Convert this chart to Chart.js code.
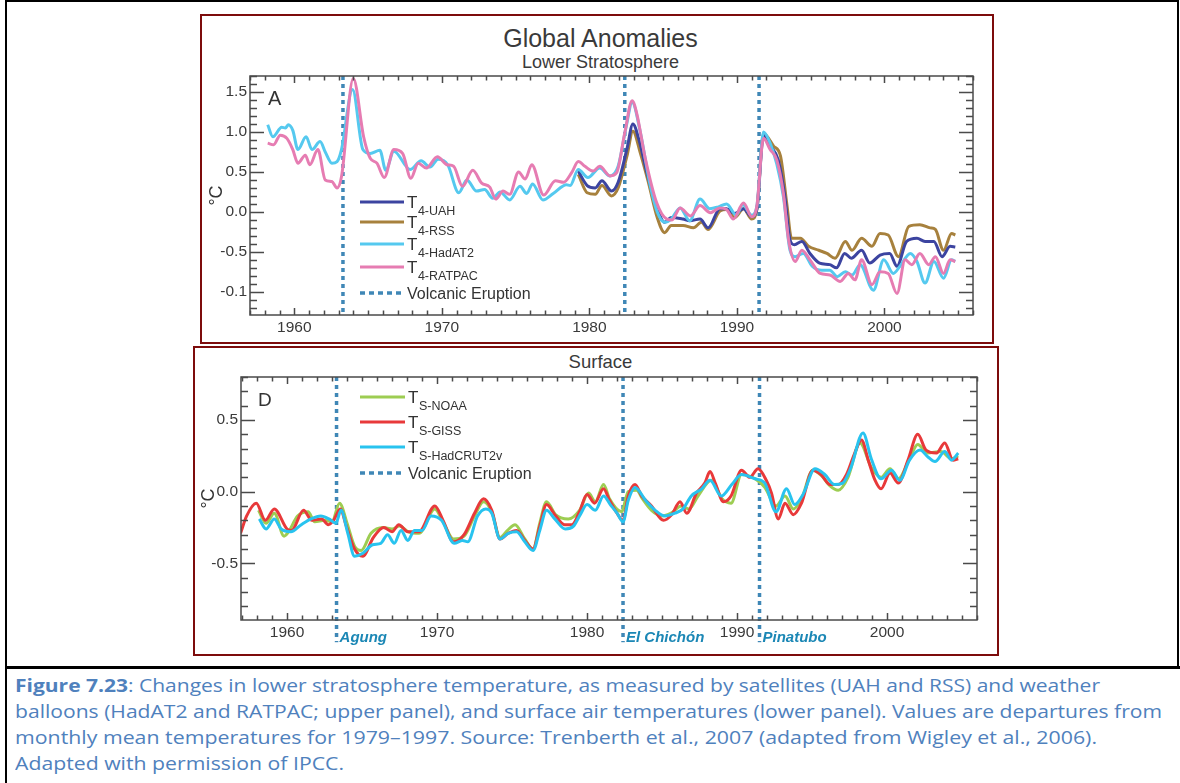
<!DOCTYPE html>
<html lang="en">
<head>
<meta charset="UTF-8">
<title>Global Anomalies</title>
<script src="https://cdn.jsdelivr.net/npm/chart.js"></script>
<style>
  html, body { margin: 0; padding: 0; background: #fff; }
  body { width: 1180px; height: 783px; position: relative; overflow: hidden; font-family: "Liberation Sans", Arial, sans-serif; }
  .abs { position: absolute; }
  #outer { left: 5px; top: 0; width: 1174px; height: 668px; border: 2px solid #000; border-bottom: none; box-sizing: border-box; }
  #divider { left: 5px; top: 666px; width: 1175px; height: 3px; background: #000; }
  #leftRule { left: 5px; top: 668px; width: 2px; height: 115px; background: #000; }
  .panel { border: 2px solid #7d0c0c; box-sizing: border-box; }
  #panelA { left: 200px; top: 14px; width: 794px; height: 330px; }
  #panelD { left: 193px; top: 346px; width: 806px; height: 310px; }
  .ttl { left: 0; width: 1201px; text-align: center; color: #3a3a3a; white-space: nowrap; }
  #chartA { left: 202px; top: 16px; }
  #chartD { left: 195px; top: 348px; }
  .cap { left: 15px; font-family: "Open Sans", sans-serif; font-size: 18px; line-height: 24px; color: #4f81bd; white-space: nowrap; transform-origin: 0 0; }
  .cap b { font-weight: 700; }
</style>
</head>
<body>
<div class="abs" id="outer"></div>
<div class="abs" id="divider"></div>
<div class="abs" id="leftRule"></div>

<div class="abs panel" id="panelA"></div>
<div class="abs panel" id="panelD"></div>

<div class="abs ttl" style="top:25.5px;font-size:25px;line-height:25px;">Global Anomalies</div>
<div class="abs ttl" style="top:53px;font-size:18px;line-height:18px;">Lower Stratosphere</div>
<div class="abs ttl" style="top:352.6px;font-size:18.5px;line-height:18.5px;">Surface</div>

<canvas class="abs" id="chartA" width="789" height="326"></canvas>
<canvas class="abs" id="chartD" width="801" height="306"></canvas>

<div class="abs cap" style="top:673px;" data-w="1085"><b>Figure 7.23</b>: Changes in lower stratosphere temperature, as measured by satellites (UAH and RSS) and weather</div>
<div class="abs cap" style="top:699px;" data-w="1147">balloons (HadAT2 and RATPAC; upper panel), and surface air temperatures (lower panel). Values are departures from</div>
<div class="abs cap" style="top:725px;" data-w="1082">monthly mean temperatures for 1979–1997. Source: Trenberth et al., 2007 (adapted from Wigley et al., 2006).</div>
<div class="abs cap" style="top:750.5px;" data-w="329">Adapted with permission of IPCC.</div>

<script>
// ---- data ----
const eruptionYears = [1963.3, 1982.4, 1991.5];
const eruptionNames = ['Agung', 'El Chichón', 'Pinatubo'];
const decadeTicks = [1960, 1970, 1980, 1990, 2000];

// upper panel: lower stratosphere
const yTicksA = [-1.0, -0.5, 0.0, 0.5, 1.0, 1.5];
const yLabelsA = ['-0.1', '-0.5', '0.0', '0.5', '1.0', '1.5'];

const uahYears = [1979.25,1979.85,1980.4,1980.85,1981.5,1981.95,1982.55,1982.95,1983.35,1983.9,1984.6,1985.1,1985.55,1986.35,1986.8,1987.5,1988.05,1988.85,1989.3,1989.85,1990.45,1991.0,1991.35,1991.8,1992.25,1992.8,1993.25,1993.6,1993.9,1994.4,1994.95,1995.6,1996.3,1996.75,1997.3,1997.75,1998.45,1999.0,1999.7,2000.35,2000.85,2001.5,2002.2,2002.75,2003.35,2003.9,2004.45,2004.8];
const uahAnom = [0.51,0.33,0.30,0.39,0.26,0.37,0.79,1.10,0.91,0.49,0.04,-0.13,-0.07,-0.09,-0.11,-0.09,-0.20,0.04,0.04,-0.02,0.04,-0.06,0.03,0.96,0.83,0.65,0.19,-0.35,-0.41,-0.37,-0.52,-0.64,-0.66,-0.70,-0.52,-0.58,-0.48,-0.64,-0.54,-0.52,-0.68,-0.37,-0.33,-0.37,-0.37,-0.56,-0.43,-0.44];

const rssYears = [1979.25,1979.85,1980.4,1980.85,1981.5,1981.95,1982.55,1982.95,1983.45,1984.0,1984.6,1985.1,1985.55,1986.35,1987.05,1987.6,1988.05,1988.85,1989.3,1989.85,1990.45,1991.0,1991.35,1991.8,1992.5,1992.95,1993.4,1993.7,1994.3,1994.85,1995.55,1996.1,1996.65,1997.35,1997.8,1998.45,1999.15,1999.7,2000.25,2000.95,2001.65,2002.4,2003.1,2003.45,2004.0,2004.55,2004.8];
const rssAnom = [0.47,0.24,0.22,0.33,0.20,0.30,0.70,1.01,0.74,0.37,-0.07,-0.26,-0.17,-0.17,-0.20,-0.13,-0.22,0.01,0.03,-0.07,0.04,-0.09,0.03,0.98,0.82,0.70,0.07,-0.33,-0.33,-0.43,-0.48,-0.52,-0.58,-0.37,-0.48,-0.33,-0.43,-0.27,-0.29,-0.56,-0.18,-0.16,-0.20,-0.22,-0.48,-0.27,-0.29];

const hadat2Years = [1958.2,1958.55,1959.15,1959.4,1959.6,1959.9,1960.25,1960.8,1961.2,1961.75,1962.1,1962.55,1962.9,1963.2,1963.95,1964.65,1965.15,1965.8,1966.2,1966.75,1967.85,1968.6,1969.2,1969.75,1970.4,1971.15,1971.7,1972.35,1972.9,1973.45,1973.95,1974.6,1975.3,1975.75,1976.15,1976.85,1977.55,1978.45,1978.7,1979.25,1979.9,1980.7,1981.4,1981.95,1982.5,1982.9,1983.45,1984.1,1984.6,1985.1,1985.55,1986.15,1986.8,1987.5,1988.15,1988.7,1989.3,1989.95,1990.4,1991.0,1991.35,1991.8,1992.25,1992.7,1993.15,1993.6,1993.95,1994.5,1995.1,1995.75,1996.3,1996.8,1997.35,1997.8,1998.35,1999.25,1999.95,2000.6,2001.05,2001.75,2002.2,2002.75,2003.35,2004.0,2004.55,2004.8];
const hadat2Anom = [1.09,0.94,1.06,1.05,1.09,1.02,0.78,0.94,0.78,0.88,0.75,0.61,0.63,0.78,1.53,0.78,0.73,0.77,0.52,0.76,0.53,0.64,0.56,0.66,0.59,0.24,0.40,0.26,0.28,0.17,0.25,0.15,0.32,0.23,0.35,0.15,0.23,0.34,0.33,0.53,0.43,0.55,0.45,0.57,1.07,1.37,1.00,0.35,0.00,-0.13,-0.09,0.05,-0.11,0.16,0.04,0.06,0.10,-0.04,0.09,-0.04,0.07,1.00,0.86,0.60,0.19,-0.48,-0.56,-0.52,-0.68,-0.73,-0.73,-0.81,-0.75,-0.79,-0.66,-0.98,-0.60,-0.77,-0.68,-0.52,-0.62,-0.89,-0.62,-0.83,-0.60,-0.62];

const ratpacYears = [1958.2,1958.6,1959.05,1959.5,1959.9,1960.25,1960.75,1961.05,1961.6,1962.1,1962.55,1962.9,1963.2,1964.0,1964.7,1965.15,1965.6,1966.1,1966.75,1967.35,1967.9,1968.4,1968.95,1969.7,1970.35,1970.8,1971.4,1972.1,1972.7,1973.25,1973.65,1974.15,1974.6,1975.2,1975.65,1976.1,1976.9,1977.7,1978.25,1978.8,1979.25,1979.7,1980.25,1980.7,1981.4,1981.85,1982.4,1982.9,1983.2,1983.8,1984.55,1985.25,1985.6,1986.15,1986.85,1987.5,1988.2,1988.85,1989.3,1989.75,1990.45,1991.0,1991.35,1991.8,1992.25,1992.7,1993.15,1993.5,1993.95,1994.4,1994.95,1995.65,1996.3,1997.0,1997.55,1998.0,1998.45,1999.15,1999.7,2000.25,2000.85,2001.4,2001.85,2002.4,2003.0,2003.45,2004.0,2004.45,2004.8];
const ratpacAnom = [0.86,0.84,0.96,0.92,0.78,0.61,0.71,0.59,0.78,0.40,0.38,0.30,0.44,1.67,0.94,0.67,0.61,0.43,0.78,0.73,0.42,0.61,0.55,0.69,0.59,0.57,0.32,0.52,0.36,0.31,0.16,0.26,0.22,0.50,0.41,0.59,0.21,0.39,0.37,0.49,0.63,0.57,0.51,0.57,0.45,0.49,0.99,1.39,1.24,0.66,0.12,-0.09,-0.10,0.05,-0.05,0.08,-0.01,0.05,0.03,-0.09,0.11,-0.06,0.07,0.92,0.78,0.65,0.23,-0.35,-0.62,-0.48,-0.60,-0.77,-0.79,-0.87,-0.77,-0.85,-0.60,-0.91,-0.75,-0.77,-1.02,-0.60,-0.66,-0.52,-0.66,-0.56,-0.77,-0.60,-0.62];

// lower panel: surface
const yTicksD = [-0.5, 0.0, 0.5];
const yLabelsD = ['-0.5', '0.0', '0.5'];

const noaaYears = [1958.1,1958.6,1959.15,1959.8,1960.1,1960.7,1961.4,1961.85,1962.5,1963.0,1963.5,1964.0,1964.5,1964.95,1965.6,1966.4,1967.0,1967.5,1968.1,1968.8,1969.85,1970.4,1971.1,1971.8,1972.5,1973.1,1973.65,1974.2,1974.7,1975.2,1975.85,1976.4,1976.85,1977.3,1977.9,1978.75,1979.5,1980.1,1980.55,1981.1,1981.5,1982.3,1982.75,1983.3,1983.7,1984.3,1985.0,1985.6,1986.3,1986.8,1987.4,1988.3,1989.0,1989.6,1990.3,1991.2,1991.85,1992.6,1993.2,1993.75,1994.3,1995.05,1995.65,1996.2,1996.75,1997.4,1998.2,1998.95,1999.6,2000.2,2000.75,2001.5,2002.05,2002.7,2003.6,2004.3,2004.75];
const noaaAnom = [-0.13,-0.22,-0.15,-0.31,-0.28,-0.17,-0.14,-0.21,-0.20,-0.21,-0.08,-0.22,-0.38,-0.41,-0.29,-0.25,-0.26,-0.24,-0.28,-0.29,-0.12,-0.21,-0.33,-0.31,-0.17,-0.07,-0.14,-0.32,-0.27,-0.23,-0.33,-0.40,-0.22,-0.07,-0.16,-0.19,-0.13,-0.01,-0.07,0.05,-0.05,-0.14,0.00,0.01,-0.05,-0.13,-0.17,-0.15,-0.10,-0.12,-0.03,0.08,-0.05,-0.08,0.12,0.09,0.03,-0.10,-0.03,-0.12,-0.05,0.15,0.11,0.04,0.01,0.10,0.34,0.17,0.10,0.16,0.09,0.23,0.33,0.27,0.28,0.23,0.25];

const gissYears = [1956.9,1957.3,1957.95,1958.55,1959.15,1960.0,1960.3,1961.1,1961.65,1962.3,1962.75,1963.1,1963.55,1963.95,1964.5,1965.05,1965.75,1966.45,1967.0,1967.45,1968.05,1968.8,1969.85,1970.4,1971.1,1971.8,1972.5,1973.1,1973.65,1974.2,1974.75,1975.3,1975.85,1976.4,1976.85,1977.3,1977.85,1978.5,1979.0,1979.5,1980.0,1980.5,1981.1,1981.5,1982.0,1982.4,1982.75,1983.2,1983.65,1984.3,1985.1,1985.65,1986.2,1986.65,1987.3,1987.85,1988.2,1988.55,1989.1,1989.6,1990.3,1990.85,1991.4,1991.95,1992.3,1992.75,1993.2,1993.75,1994.3,1995.05,1995.6,1996.2,1996.75,1997.3,1997.85,1998.3,1998.75,1999.2,1999.6,2000.2,2000.75,2001.4,2002.05,2002.6,2003.3,2003.85,2004.4,2004.75];
const gissAnom = [-0.29,-0.17,-0.08,-0.20,-0.12,-0.26,-0.27,-0.13,-0.20,-0.19,-0.23,-0.20,-0.12,-0.24,-0.40,-0.45,-0.32,-0.25,-0.28,-0.23,-0.28,-0.28,-0.10,-0.20,-0.35,-0.30,-0.15,-0.05,-0.13,-0.33,-0.29,-0.27,-0.34,-0.40,-0.24,-0.09,-0.16,-0.23,-0.23,-0.14,-0.02,-0.08,0.02,-0.06,-0.15,-0.20,-0.03,0.05,-0.03,-0.10,-0.20,-0.16,-0.07,-0.15,-0.01,0.06,0.14,0.06,-0.07,-0.03,0.15,0.10,0.16,0.08,-0.01,-0.19,-0.08,-0.16,-0.08,0.15,0.12,0.05,0.05,0.12,0.27,0.36,0.22,0.08,0.02,0.13,0.06,0.22,0.40,0.29,0.27,0.34,0.22,0.23];

const hadcrutYears = [1958.15,1958.6,1959.15,1959.6,1960.25,1960.95,1961.6,1962.25,1962.8,1963.25,1963.6,1964.05,1964.5,1965.05,1965.7,1966.25,1966.7,1967.15,1967.6,1968.05,1968.5,1969.0,1969.6,1970.3,1971.15,1971.7,1972.05,1972.7,1973.25,1973.65,1974.2,1974.75,1975.3,1975.85,1976.4,1976.85,1977.3,1977.85,1978.55,1979.1,1979.55,1980.0,1980.55,1981.1,1981.55,1982.0,1982.4,1982.75,1983.2,1983.9,1984.55,1985.2,1985.85,1986.4,1986.95,1987.65,1988.2,1988.95,1989.65,1990.3,1991.2,1991.85,1992.6,1993.3,1993.85,1994.4,1995.2,1995.85,1996.5,1997.05,1997.6,1998.4,1998.95,1999.6,2000.3,2000.85,2001.5,2002.2,2002.75,2003.2,2003.85,2004.3,2004.75];
const hadcrutAnom = [-0.19,-0.26,-0.19,-0.26,-0.28,-0.23,-0.19,-0.17,-0.19,-0.22,-0.13,-0.29,-0.45,-0.43,-0.37,-0.36,-0.30,-0.36,-0.27,-0.34,-0.27,-0.27,-0.17,-0.20,-0.36,-0.34,-0.35,-0.17,-0.12,-0.15,-0.33,-0.29,-0.28,-0.35,-0.41,-0.27,-0.13,-0.19,-0.26,-0.24,-0.16,-0.09,-0.13,-0.03,-0.09,-0.15,-0.21,-0.06,0.03,-0.06,-0.13,-0.17,-0.15,-0.12,-0.03,0.02,0.08,-0.03,0.05,0.12,0.09,0.06,-0.14,0.02,-0.09,-0.02,0.16,0.12,0.05,0.06,0.17,0.41,0.23,0.09,0.15,0.08,0.22,0.29,0.24,0.21,0.28,0.22,0.27];

// ---- chart setup ----
const FONT = '"Liberation Sans", Arial, Helvetica, sans-serif';
const eruptionColor = '#3f87b6';
Chart.defaults.font.family = FONT;
Chart.defaults.color = '#3a3a3a';

const pts = (xs, ys) => xs.map((x, i) => ({x: x, y: ys[i]}));

function seriesSet(label, xs, ys, color, order) {
  return {
    label: label, data: pts(xs, ys), borderColor: color, backgroundColor: color,
    borderWidth: 3, pointRadius: 0, fill: false, cubicInterpolationMode: 'monotone', order: order
  };
}

function eruptionSets(yTop, yBottom) {
  return eruptionYears.map(yr => ({
    label: 'Volcanic Eruption', isEruption: true,
    data: [{x: yr, y: yTop}, {x: yr, y: yBottom}],
    borderColor: eruptionColor, borderWidth: 3.5, borderDash: [4, 4],
    pointRadius: 0, fill: false, order: 10, clip: false
  }));
}

// box, inward ticks, panel letter, inner legend, eruption names
const panelDeco = {
  id: 'panelDeco',
  afterDatasetsDraw(chart, args, o) {
    const {ctx, chartArea: a} = chart;
    const x = chart.scales.x, y = chart.scales.y;
    ctx.save();
    ctx.strokeStyle = '#4a4a4a';
    ctx.lineWidth = 1.5;
    ctx.strokeRect(a.left, a.top, a.right - a.left, a.bottom - a.top);
    ctx.beginPath();
    for (let yr = Math.ceil(x.min); yr <= x.max; yr++) {
      const px = Math.round(x.getPixelForValue(yr)) + 0.5;
      const len = yr % 10 === 0 ? o.xMajor : o.xMinor;
      ctx.moveTo(px, a.bottom); ctx.lineTo(px, a.bottom - len);
      ctx.moveTo(px, a.top); ctx.lineTo(px, a.top + len);
    }
    for (let k = Math.ceil(y.min * 10); k <= Math.floor(y.max * 10); k++) {
      const py = Math.round(y.getPixelForValue(k / 10)) + 0.5;
      const len = k % 5 === 0 ? o.yMajor : o.yMinor;
      ctx.moveTo(a.left, py); ctx.lineTo(a.left + len, py);
      ctx.moveTo(a.right, py); ctx.lineTo(a.right - len, py);
    }
    ctx.stroke();

    ctx.fillStyle = '#333';
    ctx.font = o.letterFont;
    ctx.textBaseline = 'alphabetic';
    ctx.fillText(o.letter, a.left + o.letterAt[0], a.top + o.letterAt[1]);

    // legend inside the plot
    const rows = chart.data.datasets.filter(d => !d.isEruption)
      .map(d => ({color: d.borderColor, main: d.label[0], sub: d.label.slice(1)}));
    rows.push({color: eruptionColor, main: 'Volcanic Eruption', dash: true});
    const x0 = a.left + o.legendX;
    rows.forEach((r, i) => {
      const yy = a.top + o.legendY[i];
      ctx.save();
      ctx.strokeStyle = r.color;
      ctx.lineWidth = r.dash ? 3.5 : 3;
      ctx.setLineDash(r.dash ? [5, 4] : []);
      ctx.beginPath(); ctx.moveTo(x0, yy); ctx.lineTo(x0 + o.legendW, yy); ctx.stroke();
      ctx.restore();
      let tx = x0 + o.legendW + 3;
      ctx.fillStyle = '#333';
      if (r.sub) {
        ctx.font = '17px ' + FONT;
        ctx.fillText(r.main, tx, yy + 6);
        tx += ctx.measureText(r.main).width + 0.5;
        ctx.font = '12.5px ' + FONT;
        ctx.fillText(r.sub, tx, yy + 13);
      } else {
        ctx.font = '16px ' + FONT;
        ctx.fillText(r.main, tx, yy + 5.5);
      }
    });

    if (o.eruptionLabels) {
      ctx.fillStyle = '#1b87b5';
      ctx.font = 'italic bold 15px ' + FONT;
      eruptionYears.forEach((yr, i) => {
        ctx.fillText(eruptionNames[i], x.getPixelForValue(yr) + 3, a.bottom + 22);
      });
    }
    ctx.restore();
  }
};

function panelOptions(c) {
  return {
    responsive: false,
    animation: false,
    events: [],
    layout: {padding: {top: c.padTop, right: c.padRight, left: 0, bottom: 0}},
    plugins: {legend: {display: false}, tooltip: {enabled: false}, panelDeco: c.deco},
    scales: {
      x: {
        type: 'linear', min: c.xMin, max: c.xMax,
        grid: {display: false, drawTicks: false}, border: {display: false},
        afterBuildTicks: s => { s.ticks = decadeTicks.map(v => ({value: v})); },
        afterFit: s => { s.height = c.xAxisH; },
        ticks: {autoSkip: false, maxRotation: 0, padding: 3, color: '#3a3a3a', font: {size: 15.5}, callback: v => String(v)}
      },
      y: {
        type: 'linear', min: c.yMin, max: c.yMax,
        grid: {display: false, drawTicks: false}, border: {display: false},
        afterBuildTicks: s => { s.ticks = c.yTicks.map(v => ({value: v})); },
        afterFit: s => { s.width = c.yAxisW; },
        ticks: {autoSkip: false, padding: 3, color: '#3a3a3a', font: {size: 15.5}, callback: (v, i) => c.yLabels[i]},
        title: {display: true, text: '°C', color: '#333', font: {size: 18}, padding: {top: c.titlePad, bottom: 0}}
      }
    }
  };
}

new Chart(document.getElementById('chartA'), {
  type: 'line',
  data: {
    datasets: [
      seriesSet('T4-UAH', uahYears, uahAnom, '#3c44a0', 3),
      seriesSet('T4-RSS', rssYears, rssAnom, '#a7813d', 4),
      seriesSet('T4-HadAT2', hadat2Years, hadat2Anom, '#55c9ef', 2),
      seriesSet('T4-RATPAC', ratpacYears, ratpacAnom, '#e67cb2', 1)
    ].concat(eruptionSets(1.70, -1.29))
  },
  options: panelOptions({
    xMin: 1957.0, xMax: 2006.0, yMin: -1.29, yMax: 1.70,
    yTicks: yTicksA, yLabels: yLabelsA,
    padTop: 60, padRight: 18, xAxisH: 27, yAxisW: 48, titlePad: 4,
    deco: {
      xMajor: 7, xMinor: 4.5, yMajor: 14, yMinor: 7,
      letter: 'A', letterFont: '20px ' + FONT, letterAt: [18, 29],
      legendX: 110, legendW: 44, legendY: [126, 146, 168, 191, 217],
      eruptionLabels: false
    }
  }),
  plugins: [panelDeco]
});

new Chart(document.getElementById('chartD'), {
  type: 'line',
  data: {
    datasets: [
      seriesSet('TS-NOAA', noaaYears, noaaAnom, '#9dcd52', 3),
      seriesSet('TS-GISS', gissYears, gissAnom, '#e8393a', 2),
      seriesSet('TS-HadCRUT2v', hadcrutYears, hadcrutAnom, '#28c3ef', 1)
    ].concat(eruptionSets(0.80, -1.05))
  },
  options: panelOptions({
    xMin: 1956.93, xMax: 2006.0, yMin: -0.895, yMax: 0.80,
    yTicks: yTicksD, yLabels: yLabelsD,
    padTop: 29, padRight: 19, xAxisH: 34, yAxisW: 46, titlePad: 3,
    deco: {
      xMajor: 7, xMinor: 4.5, yMajor: 14, yMinor: 7,
      letter: 'D', letterFont: '19px ' + FONT, letterAt: [17, 29],
      legendX: 119, legendW: 45, legendY: [20, 45, 70, 96],
      eruptionLabels: true
    }
  }),
  plugins: [panelDeco]
});

// stretch each caption line to the width it has in the figure
document.querySelectorAll('.cap').forEach(el => {
  const w = el.getBoundingClientRect().width;
  el.style.transform = 'scaleX(' + (Number(el.dataset.w) / w) + ')';
});
</script>
</body>
</html>
